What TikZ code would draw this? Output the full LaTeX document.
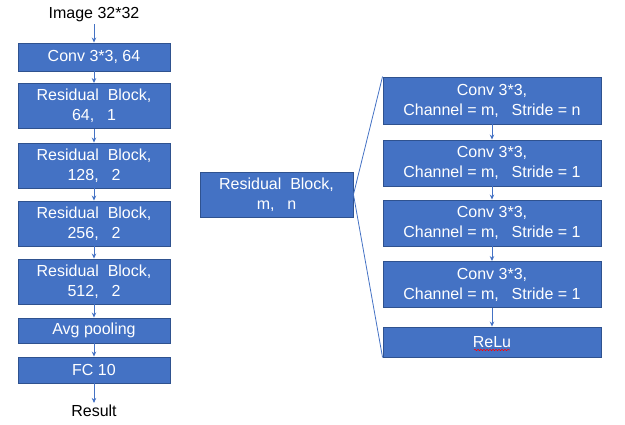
\documentclass[tikz,border=0pt]{standalone}
\usepackage{fontspec}
\setmainfont{Liberation Sans}
\usepackage{xcolor}
\usetikzlibrary{positioning,arrows.meta,decorations.pathmorphing}
\definecolor{boxblue}{HTML}{4472C4}
\definecolor{edgeblue}{HTML}{2F528F}
\newcommand{\wcomma}{,\hspace{0.8em}}

\begin{document}
\begin{tikzpicture}[x=1pt, y=-1pt,
    blk/.style={draw=edgeblue, fill=boxblue, text=white, line width=0.9pt, inner sep=0pt, align=center, font=\fontsize{16}{20}\selectfont},
    lblk/.style={blk, minimum width=152pt},
    rblk/.style={blk, minimum width=218pt, minimum height=46pt},
    plain/.style={font=\fontsize{16}{20}\selectfont, inner sep=2pt},
    flow/.style={draw=boxblue, line width=0.8pt, -{Stealth[length=5pt,width=4.5pt]}},
    link/.style={draw=boxblue, line width=0.8pt}]
    \useasboundingbox (0,0) rectangle (625,425);

    % Left: whole network
    \node[plain] (img) at (94,15) {Image 32*32};
    \node[lblk, minimum height=28pt] (conv) at (94,57) {Conv 3*3, 64};
    \foreach \name/\yc/\ch/\st in {res1/106/64/1, res2/165.5/128/2, res3/223.5/256/2, res4/281.5/512/2}
        \node[lblk, minimum height=45pt] (\name) at (94,\yc) {Residual\ \ Block,\\\ch\wcomma\st};
    \node[lblk, minimum height=25pt] (pool) at (94,330.5) {Avg pooling};
    \node[lblk, minimum height=26pt] (fc) at (94,370) {FC 10};
    \node[plain] (res) at (94,411) {Result};

    \draw[flow] (img) -- (conv);
    \draw[flow] (conv) -- (res1);
    \draw[flow] (res1) -- (res2);
    \draw[flow] (res2) -- (res3);
    \draw[flow] (res3) -- (res4);
    \draw[flow] (res4) -- (pool);
    \draw[flow] (pool) -- (fc);
    \draw[flow] (fc) -- (res);

    % Middle: one residual block
    \node[blk, minimum width=153pt, minimum height=45pt] (mid) at (276.5,194.5) {Residual\ \ Block,\\m\wcomma n};

    % Right: inside the block
    \node[rblk, minimum height=47pt] (r1) at (492,100.5) {Conv 3*3,\\Channel = m\wcomma Stride = n};
    \foreach \name/\yc in {r2/163, r3/223, r4/284.5}
        \node[rblk] (\name) at (492,\yc) {Conv 3*3,\\Channel = m\wcomma Stride = 1};
    \node[rblk, minimum height=30pt] (relu) at (492,342) {ReLu};
    \draw[red, line width=0.5pt, decorate, decoration={snake, amplitude=0.7pt, segment length=3pt}]
        ([shift={(-18,8)}]relu.center) -- ([shift={(18,8)}]relu.center);

    \draw[flow] (r1) -- (r2);
    \draw[flow] (r2) -- (r3);
    \draw[flow] (r3) -- (r4);
    \draw[flow] (r4) -- (relu);

    \draw[link] (mid.east) -- (r1.north west);
    \draw[link] (mid.east) -- (relu.south west);
\end{tikzpicture}
\end{document}
